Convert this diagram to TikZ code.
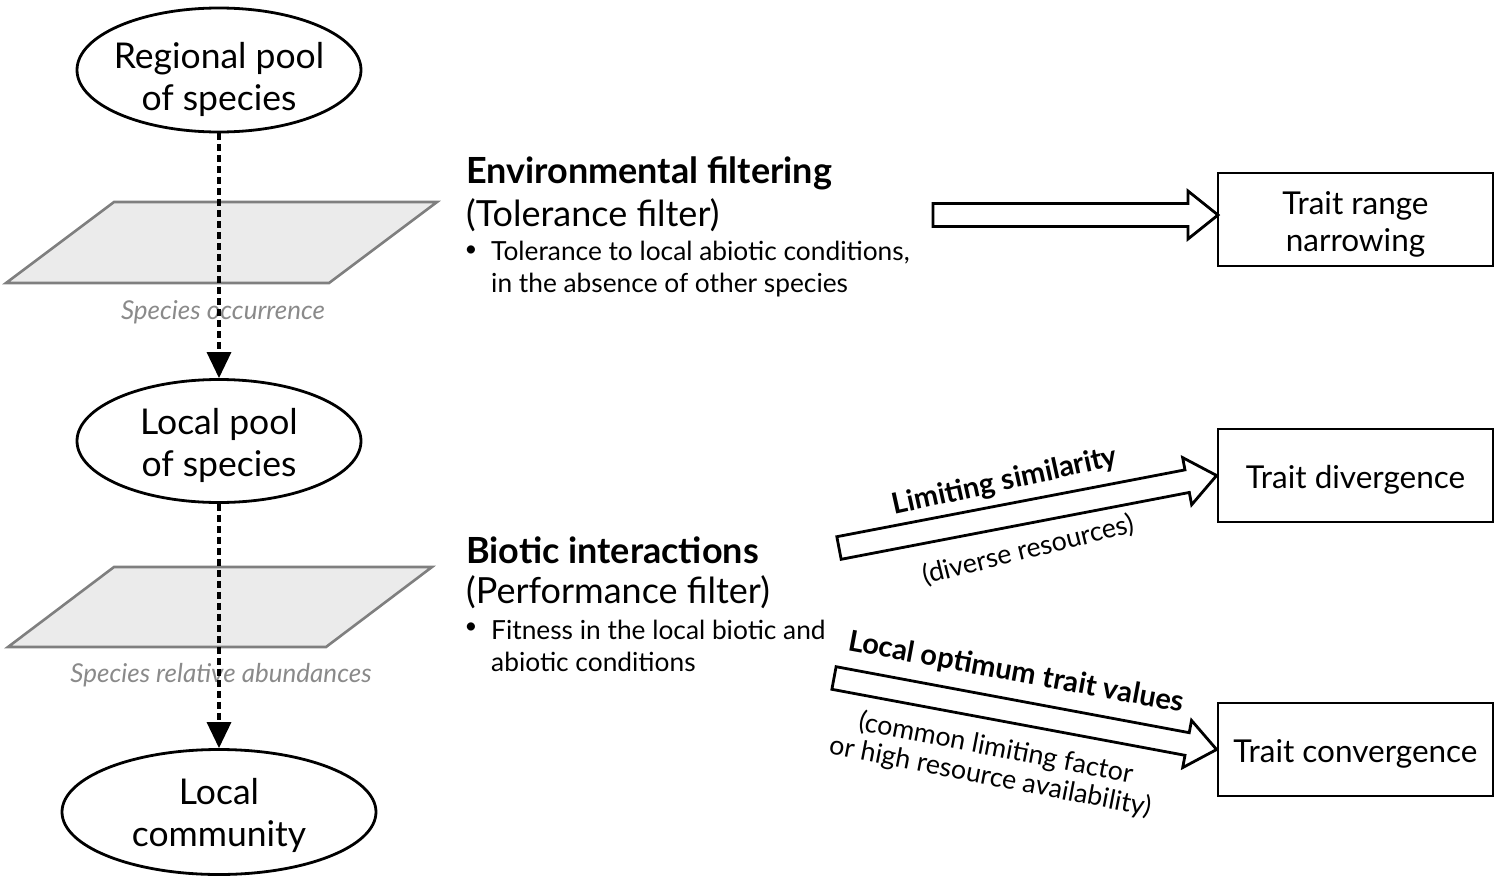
\documentclass[tikz,border=0pt]{standalone}
\usepackage{fontspec}
\setmainfont{Lato}
\usetikzlibrary{shapes.geometric,arrows.meta,calc}
\definecolor{paragray}{HTML}{EBEBEB}
\definecolor{edgegray}{HTML}{7F7F7F}
\definecolor{labgray}{HTML}{8A8A8A}
\newcommand{\lines}[2]{\makebox[0pt]{\raisebox{#1}[\height][\depth]{\begin{tabular}{@{}c@{}}#2\end{tabular}}}}
\begin{document}
\begin{tikzpicture}[x=1pt,y=-1pt,
  ell/.style={draw,line width=2.8pt,ellipse,inner sep=0pt,
    font=\fontsize{35.5}{42}\selectfont},
  para/.style={draw=edgegray,fill=paragray,line width=2.6pt,line join=miter},
  plabel/.style={text=labgray,font=\fontsize{26}{30}\selectfont\itshape,inner sep=0pt},
  flow/.style={line width=3.4pt,dash pattern=on 7pt off 4pt,
    -{Triangle[width=24pt,length=26pt]}},
  box/.style={draw,line width=2.8pt,minimum width=275pt,minimum height=93pt,
    inner sep=0pt,font=\fontsize{31.5}{37}\selectfont},
  head/.style={anchor=west,inner sep=0pt,font=\fontsize{36}{42}\selectfont\bfseries},
  sub/.style={anchor=west,inner sep=0pt,font=\fontsize{36}{42}\selectfont},
  bul/.style={inner sep=0pt,align=left,font=\fontsize{26.3}{32}\selectfont},
  dot/.style={inner sep=0pt,font=\fontsize{22}{32}\selectfont},
  barrow/.style={draw,fill=white,line width=2.8pt,line join=miter},
  albold/.style={inner sep=0pt,font=\fontsize{29}{32}\selectfont\bfseries},
  alnorm/.style={inner sep=0pt,align=center,font=\fontsize{26.8}{29}\selectfont},
]
\useasboundingbox (0,0) rectangle (1500,881);

% left column
\node[ell,minimum width=284pt,minimum height=124pt] (reg) at (219,70) {\lines{-11pt}{Regional pool\\of species}};
\node[ell,minimum width=284pt,minimum height=123pt] (loc) at (219,441) {\lines{-6.5pt}{Local pool\\of species}};
\node[ell,minimum width=314pt,minimum height=125pt] (com) at (219,812) {\lines{-5.5pt}{Local\\community}};

\draw[para] (114,202) -- (437,202) -- (329,283) -- (6,283) -- cycle;
\draw[para] (114,567) -- (432,567) -- (326,647) -- (8,647) -- cycle;

\node[plabel] (occ) at (223,312) {Species occurrence};
\node[plabel] (abu) at (221,675) {Species relative abundances};

\draw[flow] (reg.south) -- (loc.north);
\draw[flow] (loc.south) -- (com.north);

% middle text
\node[head] (envh) at (466,173) {Environmental filtering};
\node[sub] (envs) at (466,215) {(Tolerance filter)};
\node[dot] (envb) at (471,251) {\textbullet};
\node[bul,anchor=west] (envt) at (491,269) {Tolerance to local abiotic conditions,\\in the absence of other species};

\node[head] (bioh) at (466,550) {Biotic interactions};
\node[sub] (bios) at (466,592) {(Performance filter)};
\node[dot] (biob) at (471,628) {\textbullet};
\node[bul,anchor=west] (biot) at (491,646) {Fitness in the local biotic and\\abiotic conditions};

% boxes
\node[box] (b1) at (1355.5,219.5) {\lines{-6pt}{Trait range\\narrowing}};
\node[box] (b2) at (1355.5,475.5) {\lines{-6pt}{Trait divergence}};
\node[box] (b3) at (1355.5,749.5) {\lines{-6pt}{Trait convergence}};

% block arrows
\coordinate (t1) at (933,215);
\coordinate (t2) at (839,548);
\coordinate (t3) at (834,678);
\coordinate (p1) at (1218,215);
\coordinate (p2) at (b2.west);
\coordinate (p3) at (b3.west);
\foreach \i in {1,2,3}{
  \coordinate (h\i) at ($(p\i)!30pt!(t\i)$);
  \draw[barrow] ($(t\i)!11.5pt!90:(p\i)$) -- ($(h\i)!11.5pt!-90:(t\i)$)
     -- ($(h\i)!24pt!-90:(t\i)$) -- (p\i) -- ($(h\i)!24pt!90:(t\i)$)
     -- ($(h\i)!11.5pt!90:(t\i)$) -- ($(t\i)!11.5pt!-90:(p\i)$) -- cycle;
}

% arrow labels
\node[albold,rotate=12.5] (ls) at (1005,482) {Limiting similarity};
\node[alnorm,rotate=14] (dr) at (1028,550) {(diverse resources)};
\node[albold,rotate=-10.5] (lo) at (1016,673) {Local optimum trait values};
\node[alnorm,rotate=-11] (cl) at (993,763) {(common limiting factor\\or high resource availability)};
\end{tikzpicture}
\end{document}
